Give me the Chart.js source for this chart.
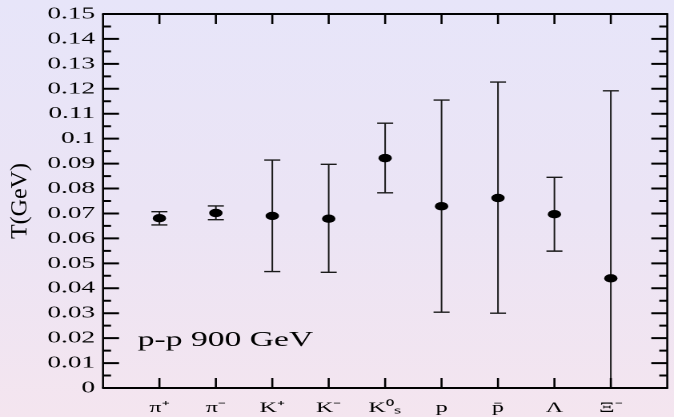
<!DOCTYPE html>
<html>
<head>
<meta charset="utf-8">
<script src="https://cdn.jsdelivr.net/npm/chart.js@4/dist/chart.umd.min.js"></script>
<style>
  html, body { margin: 0; padding: 0; width: 674px; height: 417px; overflow: hidden; }
  body { background: linear-gradient(to bottom, #e7e5f9 0%, #ebe4f5 50%, #f4e5ef 100%); }
  #wrap { position: absolute; left: 0; top: 0; width: 421px; height: 417px; transform: scaleX(1.6009); transform-origin: 0 0; }
</style>
</head>
<body>
<div id="wrap"><canvas id="c"></canvas></div>
<script>
// ---- data ----
const categories = ['π⁺', 'π⁻', 'K⁺', 'K⁻', 'K⁰ₛ', 'p', 'p̄', 'Λ', 'Ξ⁻'];
const temperature = [0.0681, 0.0702, 0.0690, 0.0679, 0.0922, 0.0729, 0.0762, 0.0697, 0.0440];
const errUpper = [0.0707, 0.0730, 0.0914, 0.0897, 0.1062, 0.1155, 0.1227, 0.0845, 0.1192];
const errLower = [0.0654, 0.0675, 0.0467, 0.0464, 0.0783, 0.0304, 0.0300, 0.0549, -0.031];
const yTickLabels = ['0','0.01','0.02','0.03','0.04','0.05','0.06','0.07','0.08','0.09','0.1','0.11','0.12','0.13','0.14','0.15'];
const yTitle = 'T(GeV)';
const note = 'p-p 900 GeV';

const SX = 674 / 421;   // horizontal stretch of the drawing
const FONT = 'Liberation Serif';

const points = categories.map((c, i) => ({ x: i, y: temperature[i] }));

const errorBars = {
  id: 'errorBars',
  beforeDatasetsDraw(chart) {
    const { ctx, chartArea: a, scales: { x, y } } = chart;
    ctx.save();
    ctx.beginPath();
    ctx.rect(a.left, a.top, a.right - a.left, a.bottom - a.top);
    ctx.clip();
    ctx.strokeStyle = '#1a1a1a';
    categories.forEach((c, i) => {
      const px = x.getPixelForValue(i);
      const pHi = y.getPixelForValue(errUpper[i]);
      const pLo = y.getPixelForValue(errLower[i]);
      ctx.lineWidth = 1.0;
      ctx.beginPath(); ctx.moveTo(px, pHi); ctx.lineTo(px, pLo); ctx.stroke();
      ctx.lineWidth = 1.4;
      ctx.beginPath();
      ctx.moveTo(px - 5, pHi); ctx.lineTo(px + 5, pHi);
      ctx.moveTo(px - 5, pLo); ctx.lineTo(px + 5, pLo);
      ctx.stroke();
    });
    ctx.restore();
  }
};

const frame = {
  id: 'frame',
  afterDraw(chart) {
    const { ctx, chartArea: a, scales: { x, y } } = chart;
    ctx.save();
    ctx.strokeStyle = '#000';
    // y ticks (major + minor), inward on left and right
    ctx.lineWidth = 2;
    for (let i = 0; i <= 30; i++) {
      const py = y.getPixelForValue(i * 0.005);
      const len = (i % 2 === 0) ? 10 : 5;
      ctx.beginPath();
      ctx.moveTo(a.left, py); ctx.lineTo(a.left + len, py);
      ctx.moveTo(a.right, py); ctx.lineTo(a.right - len, py);
      ctx.stroke();
    }
    // x ticks at categories, inward on bottom and top
    ctx.lineWidth = 1.3;
    categories.forEach((c, i) => {
      const px = x.getPixelForValue(i);
      ctx.beginPath();
      ctx.moveTo(px, a.bottom); ctx.lineTo(px, a.bottom - 10);
      ctx.moveTo(px, a.top); ctx.lineTo(px, a.top + 10);
      ctx.stroke();
    });
    // frame
    ctx.lineWidth = 2;
    ctx.beginPath();
    ctx.moveTo(a.left - 0.6, a.top); ctx.lineTo(a.right + 0.6, a.top);
    ctx.moveTo(a.left - 0.6, a.bottom); ctx.lineTo(a.right + 0.6, a.bottom);
    ctx.stroke();
    ctx.lineWidth = 1.3;
    ctx.beginPath();
    ctx.moveTo(a.left, a.top); ctx.lineTo(a.left, a.bottom);
    ctx.moveTo(a.right, a.top); ctx.lineTo(a.right, a.bottom);
    ctx.stroke();

    // y axis title (rotated, compensated for the horizontal stretch)
    ctx.fillStyle = '#000';
    ctx.save();
    ctx.translate(20 / SX, 201);
    ctx.scale(1 / SX, 1);
    ctx.rotate(-Math.PI / 2);
    ctx.font = '24px "' + FONT + '"';
    ctx.textAlign = 'center';
    ctx.textBaseline = 'middle';
    ctx.fillText(yTitle, 0, 0);
    ctx.restore();

    // annotation
    ctx.font = '21px "' + FONT + '"';
    ctx.textAlign = 'left';
    ctx.textBaseline = 'alphabetic';
    ctx.fillText(note, 137.7 / SX, 346);
    ctx.restore();
  }
};

new Chart(document.getElementById('c'), {
  type: 'scatter',
  data: {
    datasets: [{
      data: points,
      backgroundColor: '#000',
      borderColor: '#000',
      pointRadius: 4.2,
      pointHoverRadius: 4.2,
      borderWidth: 0,
      showLine: false
    }]
  },
  options: {
    responsive: true,
    maintainAspectRatio: false,
    devicePixelRatio: 2,
    animation: false,
    events: [],
    layout: { padding: { top: 14, right: 1, left: 0, bottom: 0 } },
    plugins: { legend: { display: false }, tooltip: { enabled: false } },
    scales: {
      x: {
        type: 'linear',
        min: -1,
        max: 9,
        grid: { display: false, drawTicks: false },
        border: { display: false },
        ticks: {
          stepSize: 1,
          autoSkip: false,
          maxRotation: 0,
          padding: 11,
          color: '#000',
          font: { family: FONT, size: 15 },
          callback: (v) => (Number.isInteger(v) && v >= 0 && v < categories.length) ? categories[v] : ''
        },
        afterFit: (s) => { s.height = 29; s.paddingLeft = 0; s.paddingRight = 0; }
      },
      y: {
        min: 0,
        max: 0.15,
        grid: { display: false, drawTicks: false },
        border: { display: false },
        ticks: {
          stepSize: 0.01,
          autoSkip: false,
          padding: 5,
          color: '#000',
          font: { family: FONT, size: 17 },
          callback: (v) => {
            const k = Math.round(v * 100);
            return (Math.abs(v * 100 - k) < 1e-6 && yTickLabels[k] !== undefined) ? yTickLabels[k] : '';
          }
        },
        afterFit: (s) => { s.width = 103 / SX; s.paddingTop = 0; s.paddingBottom = 0; }
      }
    }
  },
  plugins: [errorBars, frame]
});
</script>
</body>
</html>
